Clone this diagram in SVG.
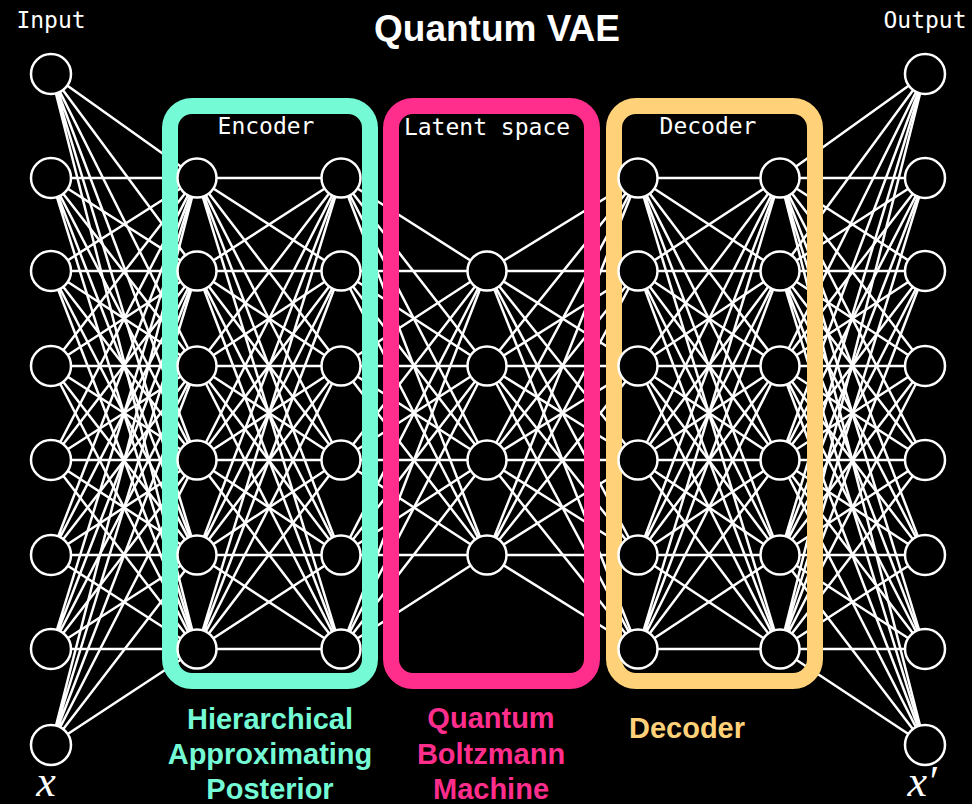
<svg xmlns="http://www.w3.org/2000/svg" width="972" height="804" viewBox="0 0 972 804">
<style>
.c{fill:none;stroke:#fff;stroke-width:2.5}
.n{fill:#000;stroke:#fff;stroke-width:2.5}
.box{fill:none;stroke-width:16}
.mono{font-family:"DejaVu Sans Mono","Liberation Mono",monospace;font-size:23px;fill:#fff;text-anchor:middle}
.lab{font-family:"Liberation Sans",Arial,sans-serif;font-weight:bold;font-size:29px;text-anchor:middle}
.math{font-family:"Liberation Serif","Times New Roman",serif;font-style:italic;font-size:44px;fill:#fff;text-anchor:middle}
</style>
<rect width="972" height="804" fill="#000"/>
<g id="connectors" class="c">
<path d="M51 74L197 178M51 74L197 271M51 74L197 366M51 74L197 460M51 74L197 555M51 74L197 649"/>
<path d="M51 178L197 178M51 178L197 271M51 178L197 366M51 178L197 460M51 178L197 555M51 178L197 649"/>
<path d="M51 271L197 178M51 271L197 271M51 271L197 366M51 271L197 460M51 271L197 555M51 271L197 649"/>
<path d="M51 366L197 178M51 366L197 271M51 366L197 366M51 366L197 460M51 366L197 555M51 366L197 649"/>
<path d="M51 460L197 178M51 460L197 271M51 460L197 366M51 460L197 460M51 460L197 555M51 460L197 649"/>
<path d="M51 555L197 178M51 555L197 271M51 555L197 366M51 555L197 460M51 555L197 555M51 555L197 649"/>
<path d="M51 649L197 178M51 649L197 271M51 649L197 366M51 649L197 460M51 649L197 555M51 649L197 649"/>
<path d="M51 745L197 178M51 745L197 271M51 745L197 366M51 745L197 460M51 745L197 555M51 745L197 649"/>
<path d="M197 178L341 178M197 178L341 271M197 178L341 366M197 178L341 460M197 178L341 555M197 178L341 649"/>
<path d="M197 271L341 178M197 271L341 271M197 271L341 366M197 271L341 460M197 271L341 555M197 271L341 649"/>
<path d="M197 366L341 178M197 366L341 271M197 366L341 366M197 366L341 460M197 366L341 555M197 366L341 649"/>
<path d="M197 460L341 178M197 460L341 271M197 460L341 366M197 460L341 460M197 460L341 555M197 460L341 649"/>
<path d="M197 555L341 178M197 555L341 271M197 555L341 366M197 555L341 460M197 555L341 555M197 555L341 649"/>
<path d="M197 649L341 178M197 649L341 271M197 649L341 366M197 649L341 460M197 649L341 555M197 649L341 649"/>
<path d="M341 178L487 271M341 178L487 366M341 178L487 460M341 178L487 555"/>
<path d="M341 271L487 271M341 271L487 366M341 271L487 460M341 271L487 555"/>
<path d="M341 366L487 271M341 366L487 366M341 366L487 460M341 366L487 555"/>
<path d="M341 460L487 271M341 460L487 366M341 460L487 460M341 460L487 555"/>
<path d="M341 555L487 271M341 555L487 366M341 555L487 460M341 555L487 555"/>
<path d="M341 649L487 271M341 649L487 366M341 649L487 460M341 649L487 555"/>
<path d="M487 271L638 178M487 271L638 271M487 271L638 366M487 271L638 460M487 271L638 555M487 271L638 649"/>
<path d="M487 366L638 178M487 366L638 271M487 366L638 366M487 366L638 460M487 366L638 555M487 366L638 649"/>
<path d="M487 460L638 178M487 460L638 271M487 460L638 366M487 460L638 460M487 460L638 555M487 460L638 649"/>
<path d="M487 555L638 178M487 555L638 271M487 555L638 366M487 555L638 460M487 555L638 555M487 555L638 649"/>
<path d="M638 178L780 178M638 178L780 271M638 178L780 366M638 178L780 460M638 178L780 555M638 178L780 649"/>
<path d="M638 271L780 178M638 271L780 271M638 271L780 366M638 271L780 460M638 271L780 555M638 271L780 649"/>
<path d="M638 366L780 178M638 366L780 271M638 366L780 366M638 366L780 460M638 366L780 555M638 366L780 649"/>
<path d="M638 460L780 178M638 460L780 271M638 460L780 366M638 460L780 460M638 460L780 555M638 460L780 649"/>
<path d="M638 555L780 178M638 555L780 271M638 555L780 366M638 555L780 460M638 555L780 555M638 555L780 649"/>
<path d="M638 649L780 178M638 649L780 271M638 649L780 366M638 649L780 460M638 649L780 555M638 649L780 649"/>
<path d="M780 178L925 74M780 178L925 178M780 178L925 271M780 178L925 366M780 178L925 460M780 178L925 555M780 178L925 649M780 178L925 745"/>
<path d="M780 271L925 74M780 271L925 178M780 271L925 271M780 271L925 366M780 271L925 460M780 271L925 555M780 271L925 649M780 271L925 745"/>
<path d="M780 366L925 74M780 366L925 178M780 366L925 271M780 366L925 366M780 366L925 460M780 366L925 555M780 366L925 649M780 366L925 745"/>
<path d="M780 460L925 74M780 460L925 178M780 460L925 271M780 460L925 366M780 460L925 460M780 460L925 555M780 460L925 649M780 460L925 745"/>
<path d="M780 555L925 74M780 555L925 178M780 555L925 271M780 555L925 366M780 555L925 460M780 555L925 555M780 555L925 649M780 555L925 745"/>
<path d="M780 649L925 74M780 649L925 178M780 649L925 271M780 649L925 366M780 649L925 460M780 649L925 555M780 649L925 649M780 649L925 745"/>
</g>
<g id="encoder-box"><rect class="box" x="170" y="106" width="200" height="575" rx="22" stroke="#74FAD4"/></g>
<g id="latent-box"><rect class="box" x="391" y="106" width="201" height="575" rx="22" stroke="#FF2D8C"/></g>
<g id="decoder-box"><rect class="box" x="614" y="106" width="201" height="575" rx="22" stroke="#FFD27A"/></g>
<g id="input-layer">
<g id="in1"><circle class="n" cx="51" cy="74" r="20"/></g>
<g id="in2"><circle class="n" cx="51" cy="178" r="20"/></g>
<g id="in3"><circle class="n" cx="51" cy="271" r="20"/></g>
<g id="in4"><circle class="n" cx="51" cy="366" r="20"/></g>
<g id="in5"><circle class="n" cx="51" cy="460" r="20"/></g>
<g id="in6"><circle class="n" cx="51" cy="555" r="20"/></g>
<g id="in7"><circle class="n" cx="51" cy="649" r="20"/></g>
<g id="in8"><circle class="n" cx="51" cy="745" r="20"/></g>
</g>
<g id="encoder-layer1">
<g id="e1a"><circle class="n" cx="197" cy="178" r="19.5"/></g>
<g id="e1b"><circle class="n" cx="197" cy="271" r="19.5"/></g>
<g id="e1c"><circle class="n" cx="197" cy="366" r="19.5"/></g>
<g id="e1d"><circle class="n" cx="197" cy="460" r="19.5"/></g>
<g id="e1e"><circle class="n" cx="197" cy="555" r="19.5"/></g>
<g id="e1f"><circle class="n" cx="197" cy="649" r="19.5"/></g>
</g>
<g id="encoder-layer2">
<g id="e2a"><circle class="n" cx="341" cy="178" r="19.5"/></g>
<g id="e2b"><circle class="n" cx="341" cy="271" r="19.5"/></g>
<g id="e2c"><circle class="n" cx="341" cy="366" r="19.5"/></g>
<g id="e2d"><circle class="n" cx="341" cy="460" r="19.5"/></g>
<g id="e2e"><circle class="n" cx="341" cy="555" r="19.5"/></g>
<g id="e2f"><circle class="n" cx="341" cy="649" r="19.5"/></g>
</g>
<g id="latent-layer">
<g id="la"><circle class="n" cx="487" cy="271" r="19.5"/></g>
<g id="lb"><circle class="n" cx="487" cy="366" r="19.5"/></g>
<g id="lc"><circle class="n" cx="487" cy="460" r="19.5"/></g>
<g id="ld"><circle class="n" cx="487" cy="555" r="19.5"/></g>
</g>
<g id="decoder-layer1">
<g id="d1a"><circle class="n" cx="638" cy="178" r="19.5"/></g>
<g id="d1b"><circle class="n" cx="638" cy="271" r="19.5"/></g>
<g id="d1c"><circle class="n" cx="638" cy="366" r="19.5"/></g>
<g id="d1d"><circle class="n" cx="638" cy="460" r="19.5"/></g>
<g id="d1e"><circle class="n" cx="638" cy="555" r="19.5"/></g>
<g id="d1f"><circle class="n" cx="638" cy="649" r="19.5"/></g>
</g>
<g id="decoder-layer2">
<g id="d2a"><circle class="n" cx="780" cy="178" r="19.5"/></g>
<g id="d2b"><circle class="n" cx="780" cy="271" r="19.5"/></g>
<g id="d2c"><circle class="n" cx="780" cy="366" r="19.5"/></g>
<g id="d2d"><circle class="n" cx="780" cy="460" r="19.5"/></g>
<g id="d2e"><circle class="n" cx="780" cy="555" r="19.5"/></g>
<g id="d2f"><circle class="n" cx="780" cy="649" r="19.5"/></g>
</g>
<g id="output-layer">
<g id="out1"><circle class="n" cx="925" cy="74" r="20"/></g>
<g id="out2"><circle class="n" cx="925" cy="178" r="20"/></g>
<g id="out3"><circle class="n" cx="925" cy="271" r="20"/></g>
<g id="out4"><circle class="n" cx="925" cy="366" r="20"/></g>
<g id="out5"><circle class="n" cx="925" cy="460" r="20"/></g>
<g id="out6"><circle class="n" cx="925" cy="555" r="20"/></g>
<g id="out7"><circle class="n" cx="925" cy="649" r="20"/></g>
<g id="out8"><circle class="n" cx="925" cy="745" r="20"/></g>
</g>
<g id="labels">
<text x="497" y="41" font-family="Liberation Sans, Arial, sans-serif" font-weight="bold" font-size="37" fill="#fff" text-anchor="middle">Quantum VAE</text>
<text class="mono" x="51" y="28">Input</text>
<text class="mono" x="925" y="28">Output</text>
<text class="mono" x="266" y="134">Encoder</text>
<text class="mono" x="487" y="135">Latent space</text>
<text class="mono" x="708" y="134">Decoder</text>
<text class="lab" fill="#74FAD4"><tspan x="270" y="729">Hierarchical</tspan><tspan x="270" y="764">Approximating</tspan><tspan x="270" y="799">Posterior</tspan></text>
<text class="lab" fill="#FF2D8C"><tspan x="491" y="728">Quantum</tspan><tspan x="491" y="764">Boltzmann</tspan><tspan x="491" y="799">Machine</tspan></text>
<text class="lab" fill="#FFD27A" x="687" y="738" font-size="27">Decoder</text>
<text class="math" x="46" y="796">x</text>
<text class="math" x="922" y="796">x′</text>
</g>
</svg>
